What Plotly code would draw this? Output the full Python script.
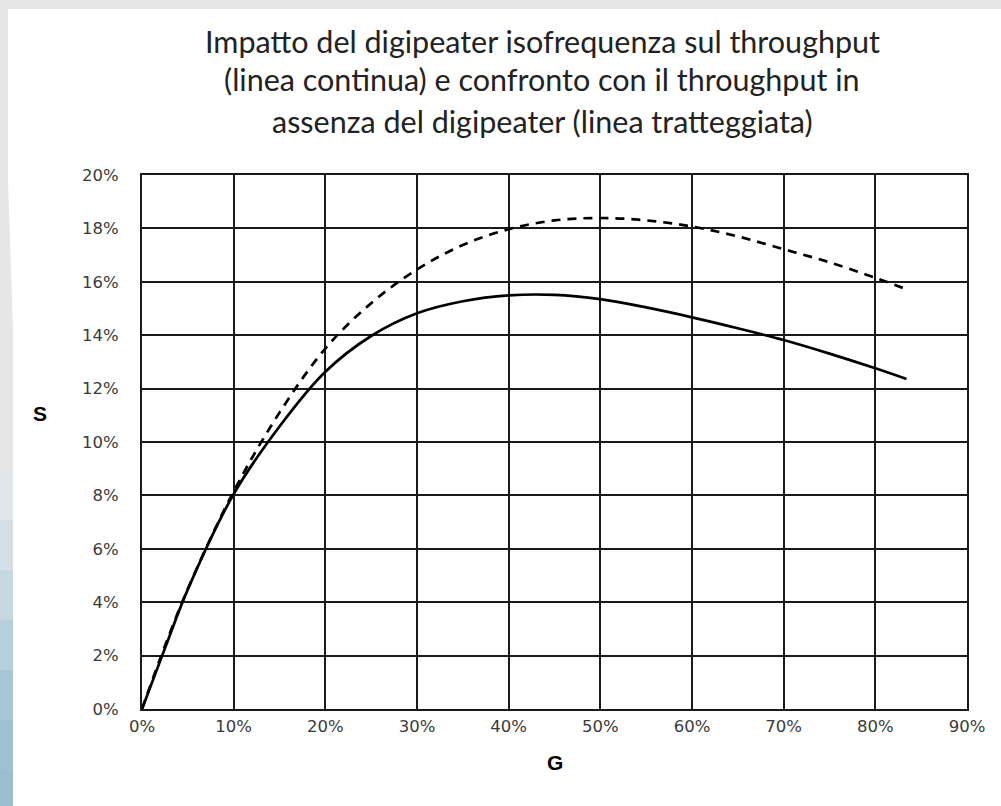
import plotly.graph_objects as go

# ---- data ----
G_solid = [0, 0.025, 0.05, 0.10, 0.15, 0.20, 0.25, 0.30, 0.35, 0.40, 0.45, 0.50, 0.55, 0.60, 0.65, 0.70, 0.75, 0.80, 0.834]
S_solid = [0, 0.0227, 0.0448, 0.0805, 0.1058, 0.1263, 0.1397, 0.1482, 0.1527, 0.1549, 0.1551, 0.1535, 0.1504, 0.1467, 0.1426, 0.1382, 0.1331, 0.1276, 0.1236]

G_dash = [0, 0.025, 0.05, 0.10, 0.15, 0.20, 0.25, 0.30, 0.35, 0.40, 0.45, 0.50, 0.55, 0.60, 0.65, 0.70, 0.75, 0.80, 0.834]
S_dash = [0, 0.0236, 0.0450, 0.0815, 0.1110, 0.1350, 0.1520, 0.1646, 0.1738, 0.1797, 0.1830, 0.1839, 0.1830, 0.1807, 0.1770, 0.1722, 0.1673, 0.1615, 0.1572]

x_ticks = [0, 0.1, 0.2, 0.3, 0.4, 0.5, 0.6, 0.7, 0.8, 0.9]
y_ticks = [0, 0.02, 0.04, 0.06, 0.08, 0.10, 0.12, 0.14, 0.16, 0.18, 0.20]

title_lines = [
    "Impatto del digipeater isofrequenza sul throughput",
    "(linea continua) e confronto con il throughput in",
    "assenza del digipeater (linea tratteggiata)",
]

# ---- geometry ----
FW, FH = 1001, 806
ML, MR, MT, MB = 142, 34, 175, 97
PW, PH = FW - ML - MR, FH - MT - MB


def px2x(px):
    return (px - ML) / PW


def px2y(py):
    return (FH - MB - py) / PH


fig = go.Figure()
fig.add_trace(go.Scatter(x=G_dash, y=S_dash, mode="lines",
                         line=dict(color="black", width=2.7, dash="9px,7px", shape="spline", smoothing=1),
                         showlegend=False, hoverinfo="skip"))
fig.add_trace(go.Scatter(x=G_solid, y=S_solid, mode="lines",
                         line=dict(color="black", width=2.7, shape="spline", smoothing=1),
                         showlegend=False, hoverinfo="skip"))

tickfont = dict(family="DejaVu Sans, sans-serif", size=16.5, color="#3a3a3a")
axis_common = dict(showgrid=True, gridcolor="#1a1a1a", gridwidth=1.8, zeroline=False,
                   showline=True, linecolor="#1a1a1a", linewidth=1.8, mirror=True,
                   ticks="", tickfont=tickfont, tickformat=".0%")

fig.update_xaxes(range=[0, 0.9], tickvals=x_ticks, ticklabelstandoff=1, **axis_common)
fig.update_yaxes(range=[0, 0.2], tickvals=y_ticks, ticklabelstandoff=18, **axis_common)

shapes = []
# background bands (slide)
shapes.append(dict(type="rect", xref="paper", yref="paper", x0=px2x(0), x1=px2x(FW), y0=px2y(9), y1=px2y(0),
                   fillcolor="#e6e6e6", line_width=0, layer="below"))
shapes.append(dict(type="rect", xref="paper", yref="paper", x0=px2x(0), x1=px2x(8), y0=px2y(FH), y1=px2y(0),
                   fillcolor="#e6e6e6", line_width=0, layer="below"))
shapes.append(dict(type="path", xref="paper", yref="paper",
                   path="M %f,%f L %f,%f L %f,%f L %f,%f Z" % (px2x(8), px2y(180), px2x(13), px2y(330),
                                                                 px2x(13), px2y(FH), px2x(8), px2y(FH)),
                   fillcolor="#e6e6e6", line_width=0, layer="below"))
blues = ["#e0e6ea", "#d5e0e6", "#c6d8e2", "#b6cfdc", "#a8c6d6", "#a0c1d3", "#9bbed1"]
for i, c in enumerate(blues):
    y0 = 470 + i * 50
    shapes.append(dict(type="rect", xref="paper", yref="paper", x0=px2x(0), x1=px2x(13),
                       y0=px2y(min(y0 + 50, FH)), y1=px2y(y0),
                       fillcolor=c, line_width=0, layer="below"))

annotations = []
title_y = [41, 79, 121]
for txt, yy in zip(title_lines, title_y):
    annotations.append(dict(text=txt, xref="paper", yref="paper", x=px2x(542), y=px2y(yy),
                            xanchor="center", yanchor="middle", showarrow=False,
                            font=dict(family="Lato, sans-serif", size=30.5, color="#222222")))
annotations.append(dict(text="<b>S</b>", xref="paper", yref="paper", x=px2x(40), y=px2y(413),
                        xanchor="center", yanchor="middle", showarrow=False,
                        font=dict(family="Liberation Sans, Arial, sans-serif", size=21, color="black")))
annotations.append(dict(text="<b>G</b>", xref="paper", yref="paper", x=px2x(555), y=px2y(762),
                        xanchor="center", yanchor="middle", showarrow=False,
                        font=dict(family="Liberation Sans, Arial, sans-serif", size=21, color="black")))

fig.update_layout(width=FW, height=FH, margin=dict(l=ML, r=MR, t=MT, b=MB, pad=0),
                  paper_bgcolor="white", plot_bgcolor="white",
                  shapes=shapes, annotations=annotations)

fig.write_html("out.html", config={"displayModeBar": False},
               post_script="document.body.style.margin='0';")
